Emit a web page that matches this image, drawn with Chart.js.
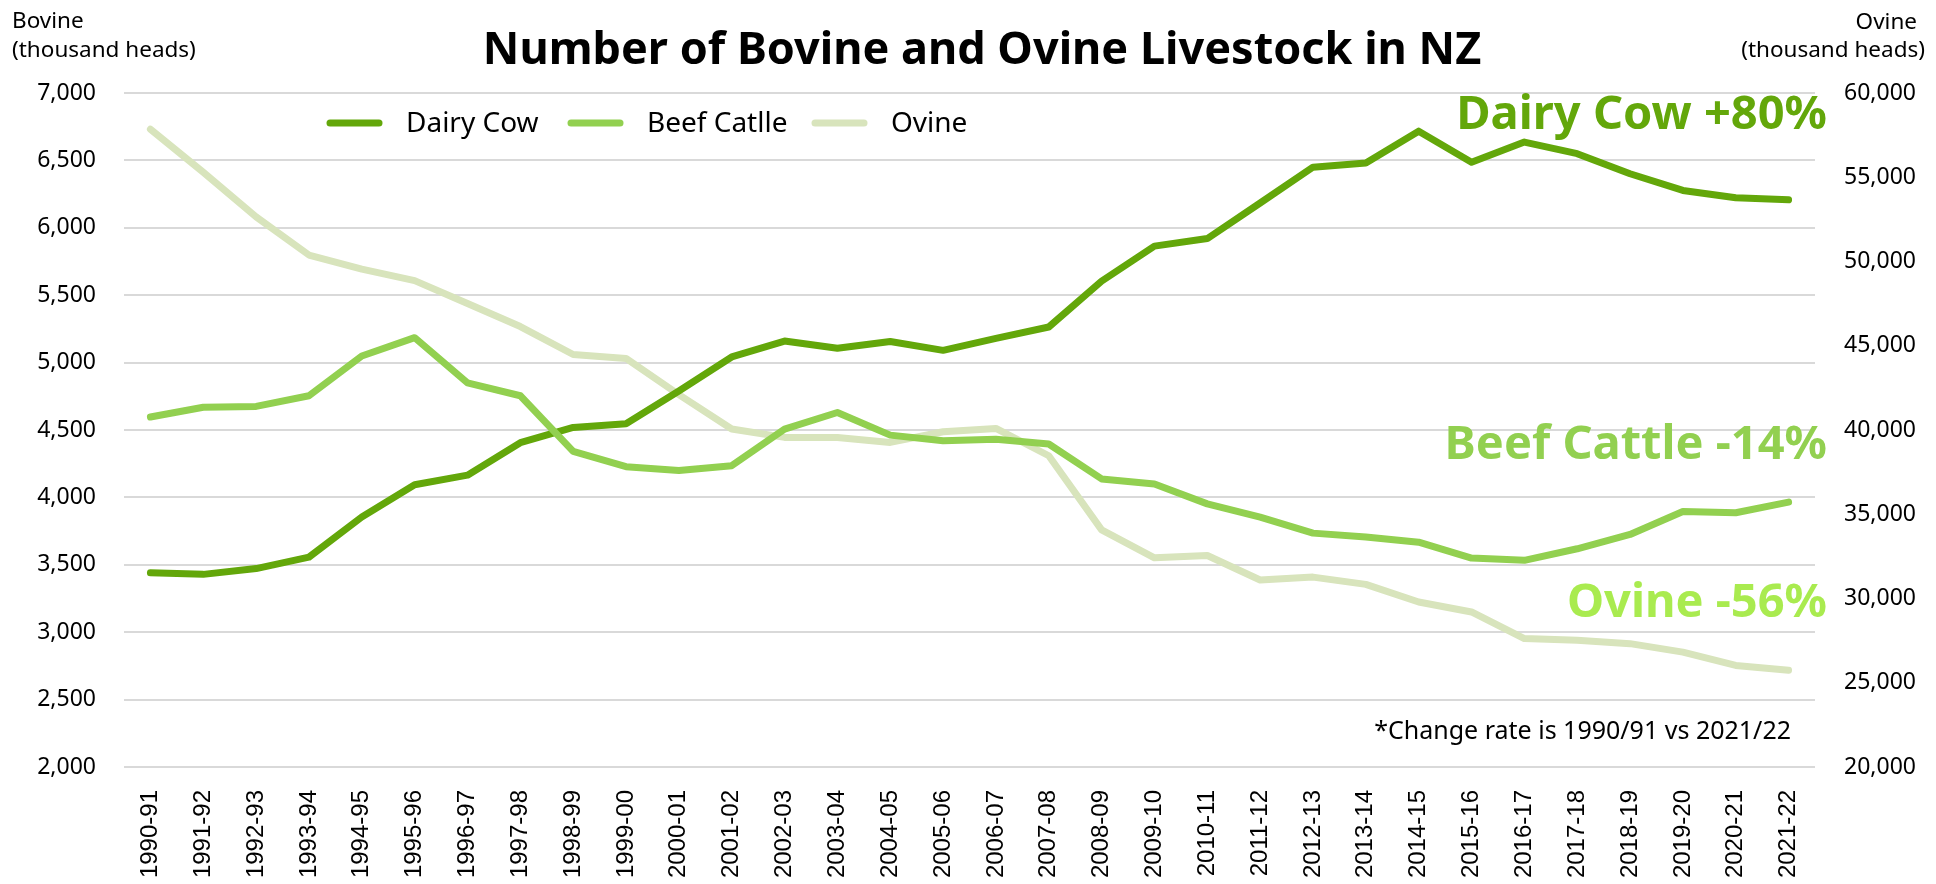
<!DOCTYPE html>
<html>
<head>
<meta charset="utf-8">
<script src="https://cdn.jsdelivr.net/npm/chart.js@4.4.1/dist/chart.umd.min.js"></script>
<style>
  html, body { margin: 0; padding: 0; background: #ffffff; }
  #wrap { width: 1936px; height: 884px; position: relative; }
</style>
</head>
<body>
<div id="wrap"><canvas id="c"></canvas></div>
<script>
const categories = ["1990-91","1991-92","1992-93","1993-94","1994-95","1995-96","1996-97","1997-98","1998-99","1999-00","2000-01","2001-02","2002-03","2003-04","2004-05","2005-06","2006-07","2007-08","2008-09","2009-10","2010-11","2011-12","2012-13","2013-14","2014-15","2015-16","2016-17","2017-18","2018-19","2019-20","2020-21","2021-22"];
const dairyCow = [3441,3429,3472,3557,3854,4094,4165,4406,4519,4547,4790,5042,5160,5106,5156,5091,5180,5264,5605,5864,5920,6184,6450,6480,6717,6487,6636,6550,6401,6277,6223,6208];
const beefCattle = [4596,4669,4675,4754,5049,5185,4850,4754,4341,4228,4199,4235,4507,4630,4462,4420,4432,4396,4137,4100,3952,3853,3735,3706,3668,3550,3533,3619,3725,3896,3886,3965];
const ovine = [57850,55300,52650,50385,49545,48863,47506,46139,44481,44250,42100,40056,39560,39560,39264,39896,40096,38472,34072,32416,32552,31100,31270,30840,29790,29200,27620,27520,27320,26820,26030,25740];
const seriesNames = ["Dairy Cow","Beef Catlle","Ovine"];
const seriesColors = ["#63A70A","#92D050","#D8E4BC"];
const annotations = [
  { text: "Dairy Cow +80%", color: "#63A70A", y: 129 },
  { text: "Beef Cattle -14%", color: "#92D050", y: 459 },
  { text: "Ovine -56%", color: "#A9EB4F", y: 617 }
];
const titleText = "Number of Bovine and Ovine Livestock in NZ";
const footnote = "*Change rate is 1990/91 vs 2021/22";

const FONT = '"Noto Sans", "Open Sans", sans-serif';

const overlay = {
  id: 'overlay',
  afterDraw(chart) {
    const ctx = chart.ctx;
    ctx.save();
    // title
    ctx.fillStyle = '#000';
    ctx.font = 'bold 45px ' + FONT;
    ctx.textAlign = 'center';
    ctx.textBaseline = 'alphabetic';
    ctx.fillText(titleText, 982, 64);
    // axis titles
    ctx.font = '22.5px ' + FONT;
    ctx.fillStyle = '#000';
    ctx.textAlign = 'left';
    ctx.fillText('Bovine', 12, 28);
    ctx.fillText('(thousand heads)', 12, 57);
    ctx.textAlign = 'right';
    ctx.fillText('Ovine', 1917, 29);
    ctx.fillText('(thousand heads)', 1925, 57);
    // legend
    const legendX = [327, 568, 812];
    ctx.font = '28px ' + FONT;
    ctx.textAlign = 'left';
    ctx.textBaseline = 'middle';
    chart.data.datasets.forEach((ds, i) => {
      const x = legendX[i];
      ctx.strokeStyle = ds.borderColor;
      ctx.lineWidth = 7;
      ctx.lineCap = 'round';
      ctx.beginPath();
      ctx.moveTo(x + 3, 123);
      ctx.lineTo(x + 52, 123);
      ctx.stroke();
      ctx.fillStyle = '#000';
      ctx.fillText(ds.label, x + 79, 124);
    });
    // annotations
    ctx.textAlign = 'right';
    ctx.textBaseline = 'alphabetic';
    ctx.font = 'bold 47px ' + FONT;
    annotations.forEach(a => {
      ctx.fillStyle = a.color;
      ctx.fillText(a.text, 1827, a.y);
    });
    // footnote
    ctx.fillStyle = '#000';
    ctx.font = '25px ' + FONT;
    ctx.fillText(footnote, 1791, 739);
    ctx.restore();
  }
};

const ctx = document.getElementById('c').getContext('2d');
new Chart(ctx, {
  type: 'line',
  data: {
    labels: categories,
    datasets: [
      { label: seriesNames[0], data: dairyCow, borderColor: seriesColors[0], backgroundColor: seriesColors[0], yAxisID: 'y', order: 2 },
      { label: seriesNames[1], data: beefCattle, borderColor: seriesColors[1], backgroundColor: seriesColors[1], yAxisID: 'y', order: 1 },
      { label: seriesNames[2], data: ovine, borderColor: seriesColors[2], backgroundColor: seriesColors[2], yAxisID: 'y1', order: 3 }
    ]
  },
  options: {
    responsive: true,
    maintainAspectRatio: false,
    animation: false,
    layout: { padding: { top: 93, left: 0, right: 0, bottom: 0 } },
    elements: {
      line: { borderWidth: 7, tension: 0, borderJoinStyle: 'round', borderCapStyle: 'round' },
      point: { radius: 0, hoverRadius: 0 }
    },
    plugins: {
      legend: { display: false },
      title: { display: false },
      tooltip: { enabled: false }
    },
    scales: {
      x: {
        type: 'category',
        offset: true,
        grid: { display: false, drawTicks: false },
        border: { display: false },
        ticks: {
          minRotation: 90, maxRotation: 90, autoSkip: false, padding: 23,
          color: '#000', font: { family: '"Liberation Sans", Arial, sans-serif', size: 24 }
        },
        afterFit(scale) { scale.height = 117; }
      },
      y: {
        position: 'left',
        min: 2000, max: 7000,
        grid: { color: '#d9d9d9', lineWidth: 2, drawTicks: false },
        border: { display: false },
        ticks: {
          stepSize: 500, padding: 28, color: '#000',
          font: { family: FONT, size: 23 },
          callback: v => v.toLocaleString('en-US')
        },
        afterFit(scale) { scale.width = 124; }
      },
      y1: {
        position: 'right',
        min: 20000, max: 60000,
        grid: { display: false, drawTicks: false },
        border: { display: false },
        ticks: {
          stepSize: 5000, padding: 29, color: '#000',
          font: { family: FONT, size: 23 },
          callback: v => v.toLocaleString('en-US')
        },
        afterFit(scale) { scale.width = 121; }
      }
    }
  },
  plugins: [overlay]
});
</script>
</body>
</html>
